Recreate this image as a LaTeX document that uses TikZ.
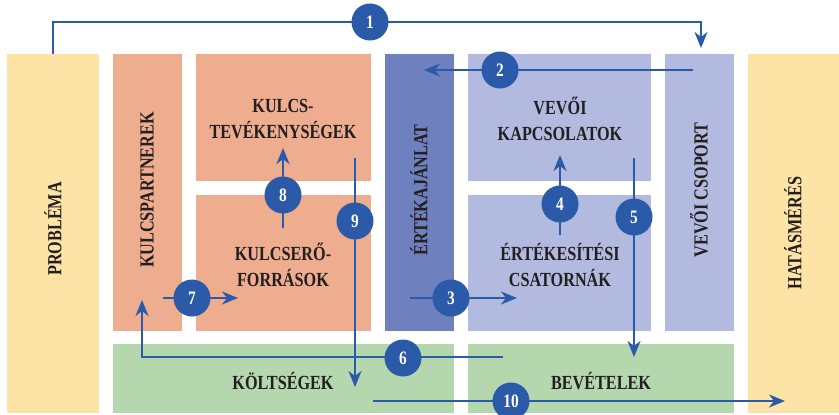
\documentclass[tikz,border=0pt]{standalone}
\usepackage{fontspec}
\setmainfont{Liberation Serif}[FakeStretch=0.81]
\usetikzlibrary{arrows.meta}

\definecolor{cyellow}{HTML}{FDE4A6}
\definecolor{csalmon}{HTML}{EEAD8E}
\definecolor{cdeep}{HTML}{6F80BF}
\definecolor{clight}{HTML}{B3BADF}
\definecolor{cgreen}{HTML}{B4D7AD}
\definecolor{cink}{HTML}{231F20}
\definecolor{cflow}{HTML}{2A5AA8}

\begin{document}
\begin{tikzpicture}[x=1pt,y=-1pt,
  cell/.style={draw=none,inner sep=0pt,outer sep=0pt},
  lbl/.style={text=cink,font=\fontsize{20}{26}\selectfont\bfseries,align=center,inner sep=0pt},
  flow/.style={draw=cflow,line width=2.2pt,line join=miter,
    -{Stealth[length=16pt,width=13pt,inset=5pt]}},
  num/.style={circle,fill=cflow,minimum size=37pt,inner sep=0pt,
    text=white,font=\fontsize{19}{19}\selectfont\bfseries}]

\useasboundingbox (0,0) rectangle (839,415);

% canvas cells
\node[cell,fill=cyellow,minimum width=92pt,minimum height=359pt] (prob) at (53,233.5) {};
\node[cell,fill=cyellow,minimum width=91pt,minimum height=359pt] (hat)  at (793.5,233.5) {};
\node[cell,fill=csalmon,minimum width=69pt,minimum height=277pt] (kp) at (147.5,192.5) {};
\node[cell,fill=csalmon,minimum width=175pt,minimum height=127pt] (kt) at (283.5,117.5) {};
\node[cell,fill=csalmon,minimum width=175pt,minimum height=136pt] (ke) at (283.5,263) {};
\node[cell,fill=cdeep,minimum width=69pt,minimum height=277pt] (ea) at (419.5,192.5) {};
\node[cell,fill=clight,minimum width=183pt,minimum height=127pt] (vk) at (559.5,117.5) {};
\node[cell,fill=clight,minimum width=183pt,minimum height=136pt] (ec) at (559.5,263) {};
\node[cell,fill=clight,minimum width=69pt,minimum height=277pt] (vcs) at (699.5,192.5) {};
\node[cell,fill=cgreen,minimum width=341pt,minimum height=69pt] (ko) at (283.5,378.5) {};
\node[cell,fill=cgreen,minimum width=266pt,minimum height=69pt] (be) at (601,378.5) {};

% cell labels
\node[lbl,rotate=90] (tprob) at (53,229) {PROBLÉMA};
\node[lbl,rotate=90] (that)  at (793,233) {HATÁSMÉRÉS};
\node[lbl,rotate=90] (tkp)   at (147,190) {KULCSPARTNEREK};
\node[lbl,rotate=90] (tea)   at (419,190) {ÉRTÉKAJÁNLAT};
\node[lbl,rotate=90] (tvcs)  at (699,190) {VEVŐI CSOPORT};
\node[lbl] (tkt) at (283,119) {KULCS-\\TEVÉKENYSÉGEK};
\node[lbl] (tke) at (283,265) {KULCSERŐ-\\FORRÁSOK};
\node[lbl] (tvk) at (560,119) {VEVŐI\\KAPCSOLATOK};
\node[lbl] (tec) at (560,265) {ÉRTÉKESÍTÉSI\\CSATORNÁK};
\node[lbl] (tko) at (283,381) {KÖLTSÉGEK};
\node[lbl] (tbe) at (601,381) {BEVÉTELEK};

% flow end points
\coordinate (a1e) at (701,48);
\coordinate (a2s) at (693,70);   \coordinate (a2e) at (424,70);
\coordinate (a3s) at (410,298);  \coordinate (a3e) at (517,298);
\coordinate (a4s) at (560,235);  \coordinate (a4e) at (560,155);
\coordinate (a5s) at (634,158);  \coordinate (a5e) at (634,357);
\coordinate (a6s) at (503,357);  \coordinate (a6e) at (142,300);
\coordinate (a7s) at (163,298);  \coordinate (a7e) at (238,298);
\coordinate (a8s) at (283,228);  \coordinate (a8e) at (283,148);
\coordinate (a9s) at (355,158);  \coordinate (a9e) at (355,387);
\coordinate (a10s) at (373,401); \coordinate (a10e) at (785,401);

% flows
\draw[flow] (prob.north) -- ++(0,-32) -| (a1e);
\draw[flow] (a2s) -- (a2e);
\draw[flow] (a3s) -- (a3e);
\draw[flow] (a4s) -- (a4e);
\draw[flow] (a5s) -- (a5e);
\draw[flow] (a6s) -| (a6e);
\draw[flow] (a7s) -- (a7e);
\draw[flow] (a8s) -- (a8e);
\draw[flow] (a9s) -- (a9e);
\draw[flow] (a10s) -- (a10e);

% step numbers
\node[num] (n1) at (370,22) {1};
\node[num] (n2) at (500,70) {2};
\node[num] (n3) at (451,298) {3};
\node[num] (n4) at (560,204) {4};
\node[num] (n5) at (634,217) {5};
\node[num] (n6) at (403,358) {6};
\node[num] (n7) at (192,298) {7};
\node[num] (n8) at (283,195) {8};
\node[num] (n9) at (355,221) {9};
\node[num] (n10) at (511,401) {10};
\end{tikzpicture}
\end{document}
